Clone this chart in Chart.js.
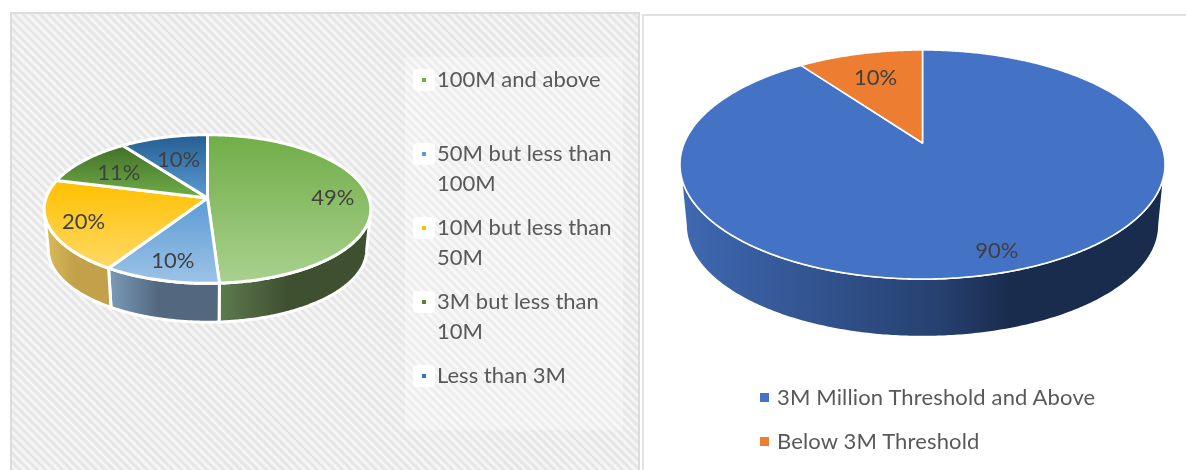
<!DOCTYPE html>
<html>
<head>
<meta charset="utf-8">
<script src="https://cdn.jsdelivr.net/npm/chart.js@4/dist/chart.umd.js"></script>
<style>
  html, body { margin: 0; padding: 0; background: #fff; width: 1186px; height: 470px; overflow: hidden; }
  .panel { position: absolute; box-sizing: border-box; font-family: Lato, sans-serif; color: #595959; }
  .panel canvas { position: absolute; left: 0; top: 0; }
  #sizePanel {
    left: 10px; top: 12px; width: 630px; height: 458px;
    border: 2px solid #dcdcdc; border-bottom: 0;
    background: repeating-linear-gradient(45deg, #e2e2e2 0, #f9f9f9 3px, #e2e2e2 6px);
  }
  #thresholdPanel {
    left: 642px; top: 14px; width: 544px; height: 456px;
    border: 2px solid #e2e2e2; border-width: 2px 0 0 2px; background: #fff;
  }
  #sizeLegendBack { position: absolute; left: 393px; top: 43px; width: 218px; height: 373px; background: rgba(255,255,255,.3); }
  #sizeLegend { position: absolute; left: 401px; top: 50px; width: 210px; }
  #sizeLegend .item { position: relative; height: 74px; padding-left: 24px; font-size: 22px; line-height: 30px; }
  #sizeLegend .back { position: absolute; left: 0; top: 5px; width: 22px; height: 22px; border-radius: 4px; background: #fff; }
  #sizeLegend .mark { position: absolute; left: 9px; top: 14px; width: 4px; height: 4px; }
  #thresholdLegend { position: absolute; left: 116px; top: 366px; }
  #thresholdLegend .item { position: relative; height: 44px; padding-left: 17px; font-size: 22px; line-height: 30px; letter-spacing: .15px; white-space: nowrap; }
  #thresholdLegend .mark { position: absolute; left: 0; top: 11px; width: 9px; height: 9px; }
</style>
</head>
<body>
<div class="panel" id="sizePanel">
  <canvas id="sizeChart" width="626" height="456"></canvas>
  <div id="sizeLegendBack"></div>
  <div id="sizeLegend"></div>
</div>
<div class="panel" id="thresholdPanel">
  <canvas id="thresholdChart" width="542" height="454"></canvas>
  <div id="thresholdLegend"></div>
</div>
<script>
const sizeLabels = ['100M and above', '50M but less than 100M', '10M but less than 50M', '3M but less than 10M', 'Less than 3M'];
const sizeValues = [49, 10, 20, 11, 10];
const sizeColors = ['#70ad47', '#5b9bd5', '#ffc000', '#548235', '#2e75b6'];
const sizeTopFrom = ['#70ad47', '#5b9bd5', '#ffc000', '#43702a', '#255e91'];
const sizeTopTo = ['#a9d18e', '#9dc3e6', '#ffd966', '#70ad47', '#5b9bd5'];
const sizeWallFrom = ['#5f7a4e', '#7b9bb8', '#dcbc5c', '#3f6126', '#1f4e79'];
const sizeWallTo = ['#3e5030', '#53687f', '#c2a14a', '#3f6126', '#1f4e79'];

const thresholdLabels = ['3M Million Threshold and Above', 'Below 3M Threshold'];
const thresholdValues = [90, 10];
const thresholdColors = ['#4472c4', '#ed7d31'];
const thresholdWallFrom = ['#3f69b2', '#a85a22'];
const thresholdWallTo = ['#1a2c4e', '#a85a22'];

// chart.js has no 3d pie, so the arcs it lays out get projected here
const pie3d = {
  id: 'pie3d',
  beforeDatasetDraw(chart, args, opts) {
    const ctx = chart.ctx;
    const arcs = chart.getDatasetMeta(0).data;

    const rim = (el, t, lower) => {
      const X = Math.sin(t), Y = -Math.cos(t);
      const w = 1 - opts.persp * Y;
      const s = lower ? opts.shrink : 1;
      return {
        x: el.x + s * el.outerRadius * X / w,
        y: el.y + (lower ? opts.depth : 0) + s * el.outerRadius * opts.squash * Y / w
      };
    };
    const steps = (a, b) => {
      const out = [];
      const n = Math.max(2, Math.ceil((b - a) / 0.01));
      for (let i = 0; i <= n; i++) out.push(a + (b - a) * i / n);
      return out;
    };

    // side walls, only between the widest points of the ellipse
    const low = Math.acos(-opts.persp), high = 2 * Math.PI - low;
    arcs.forEach((el, i) => {
      const a = Math.max(el.startAngle + Math.PI / 2, low);
      const b = Math.min(el.endAngle + Math.PI / 2, high);
      if (b <= a) return;
      const top = steps(a, b).map(t => rim(el, t, false));
      const bottom = steps(a, b).map(t => rim(el, t, true)).reverse();
      const xs = top.concat(bottom).map(p => p.x);
      const minX = Math.min(...xs), maxX = Math.max(...xs);
      const g = ctx.createLinearGradient(minX, 0, maxX, 0);
      g.addColorStop(0, opts.wallFrom[i]);
      if (opts.wallMid) g.addColorStop(0.54, opts.wallMid);
      g.addColorStop(opts.wallMid ? 0.68 : 0.45, opts.wallTo[i]);
      g.addColorStop(1, opts.wallTo[i]);
      ctx.beginPath();
      top.concat(bottom).forEach((p, k) => k ? ctx.lineTo(p.x, p.y) : ctx.moveTo(p.x, p.y));
      ctx.closePath();
      ctx.fillStyle = g;
      ctx.fill();
      ctx.strokeStyle = '#fff';
      ctx.lineWidth = opts.edge;
      ctx.lineJoin = 'round';
      ctx.stroke();
    });

    // top face
    arcs.forEach((el, i) => {
      const pts = steps(el.startAngle + Math.PI / 2, el.endAngle + Math.PI / 2).map(t => rim(el, t, false));
      const ys = pts.map(p => p.y).concat(el.y);
      let fill = chart.data.datasets[0].backgroundColor[i];
      if (opts.topFrom) {
        fill = ctx.createLinearGradient(0, Math.min(...ys), 0, Math.max(...ys));
        fill.addColorStop(0, opts.topFrom[i]);
        fill.addColorStop(1, opts.topTo[i]);
      }
      ctx.beginPath();
      ctx.moveTo(el.x, el.y);
      pts.forEach(p => ctx.lineTo(p.x, p.y));
      ctx.closePath();
      ctx.fillStyle = fill;
      ctx.fill();
      ctx.strokeStyle = '#fff';
      ctx.lineWidth = opts.edge;
      ctx.lineJoin = 'round';
      ctx.stroke();
    });

    // percent labels
    const values = chart.data.datasets[0].data;
    const total = values.reduce((a, b) => a + b, 0);
    ctx.font = opts.labelFont;
    ctx.fillStyle = '#404040';
    ctx.textAlign = 'center';
    ctx.textBaseline = 'middle';
    arcs.forEach((el, i) => {
      const mid = (el.startAngle + el.endAngle) / 2 + Math.PI / 2;
      const X = Math.sin(mid), Y = -Math.cos(mid);
      const w = 1 - opts.persp * Y;
      const r = el.outerRadius * opts.labelAt[i];
      ctx.fillText(Math.round(values[i] / total * 100) + '%', el.x + r * X / w, el.y + 2 + r * opts.squash * Y / w);
    });
    return false;
  }
};

const dashboardPie = (id, labels, values, colors, radius, padding, view) => {
  new Chart(document.getElementById(id), {
    type: 'pie',
    data: {
      labels: labels,
      datasets: [{ data: values, backgroundColor: colors, radius: radius, borderWidth: 0 }]
    },
    options: {
      responsive: false,
      animation: false,
      layout: { padding: padding },
      plugins: { legend: { display: false }, tooltip: { enabled: false }, pie3d: view }
    },
    plugins: [pie3d]
  });
};

const htmlLegend = (id, labels, colors, back) => {
  const box = document.getElementById(id);
  labels.forEach((label, i) => {
    const item = document.createElement('div');
    item.className = 'item';
    item.innerHTML = (back ? '<span class="back"></span>' : '') +
      '<span class="mark" style="background:' + colors[i] + '"></span>' + label;
    box.appendChild(item);
  });
};

dashboardPie('sizeChart', sizeLabels, sizeValues, sizeColors, 161.5, { right: 235, bottom: 88 }, {
  persp: 0.1486, squash: 0.45, depth: 41, shrink: 0.975, edge: 3,
  topFrom: sizeTopFrom, topTo: sizeTopTo, wallFrom: sizeWallFrom, wallTo: sizeWallTo,
  labelFont: '22px Lato', labelAt: [0.78, 0.74, 0.78, 0.72, 0.66]
});
dashboardPie('thresholdChart', thresholdLabels, thresholdValues, thresholdColors, 238.2, { left: 15, bottom: 200 }, {
  persp: 0.1878, squash: 0.4639, depth: 61, shrink: 0.975, edge: 1.6,
  wallFrom: thresholdWallFrom, wallTo: thresholdWallTo, wallMid: '#26406f',
  labelFont: '22px Lato', labelAt: [0.83, 0.75]
});
htmlLegend('sizeLegend', sizeLabels, sizeColors, true);
htmlLegend('thresholdLegend', thresholdLabels, thresholdColors, false);
</script>
</body>
</html>
